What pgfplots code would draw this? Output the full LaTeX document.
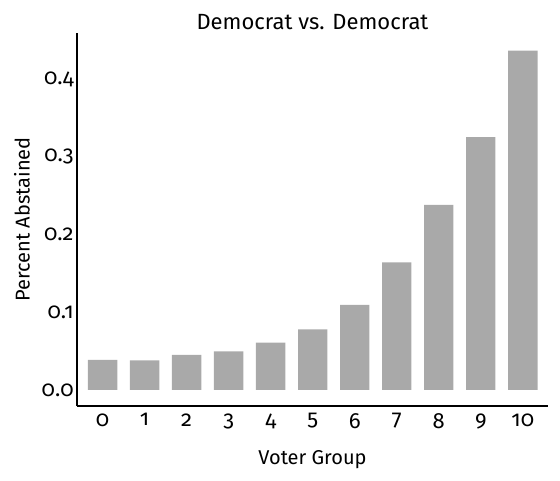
\documentclass[border=0pt]{standalone}
\usepackage{fontspec}
\setmainfont{Fira Sans}[Numbers=OldStyle]
\usepackage{pgfplots}
\pgfplotsset{compat=1.18}
\definecolor{barc}{RGB}{169,169,169}

\begin{document}
\begin{tikzpicture}
\begin{axis}[
    name=ax,
    scale only axis,
    width=353.25pt,
    height=279.75pt,
    xmin=-0.61, xmax=10.6,
    ymin=-0.0206, ymax=0.459,
    axis lines=left,
    axis line style={line width=1.4pt, -},
    major tick length=0pt,
    xtick={0,...,10},
    ytick={0,0.1,0.2,0.3,0.4},
    /pgf/number format/assume math mode=true,
    yticklabel={\pgfmathprintnumber[fixed,fixed zerofill,precision=1]{\tick}},
    ticklabel style={font=\fontsize{16.5}{19}\selectfont},
    xticklabel style={yshift=-2pt},
    yticklabel style={xshift=1pt},
    title={Democrat vs. Democrat},
    title style={font=\fontsize{16.5}{19}\selectfont, at={(axis description cs:0.5,1.008)}, anchor=center},
    xlabel={Voter Group},
    ylabel={Percent Abstained},
    label style={font=\fontsize{15}{18}\selectfont},
    xlabel style={at={(axis description cs:0.5,-0.1448)}, anchor=center},
    ylabel style={at={(axis description cs:-0.1168,0.5)}, anchor=center},
]
\addplot[ybar, bar width=0.7, fill=barc, draw=none] coordinates {
    (0,0.0386) (1,0.0382) (2,0.0450) (3,0.0498) (4,0.0608) (5,0.0780)
    (6,0.1093) (7,0.1642) (8,0.2379) (9,0.3250) (10,0.4364)
};
\end{axis}
\path[use as bounding box] ([xshift=-57.75pt,yshift=-55.5pt]ax.south west) rectangle ([xshift=9pt,yshift=24.75pt]ax.north east);
\end{tikzpicture}
\end{document}
